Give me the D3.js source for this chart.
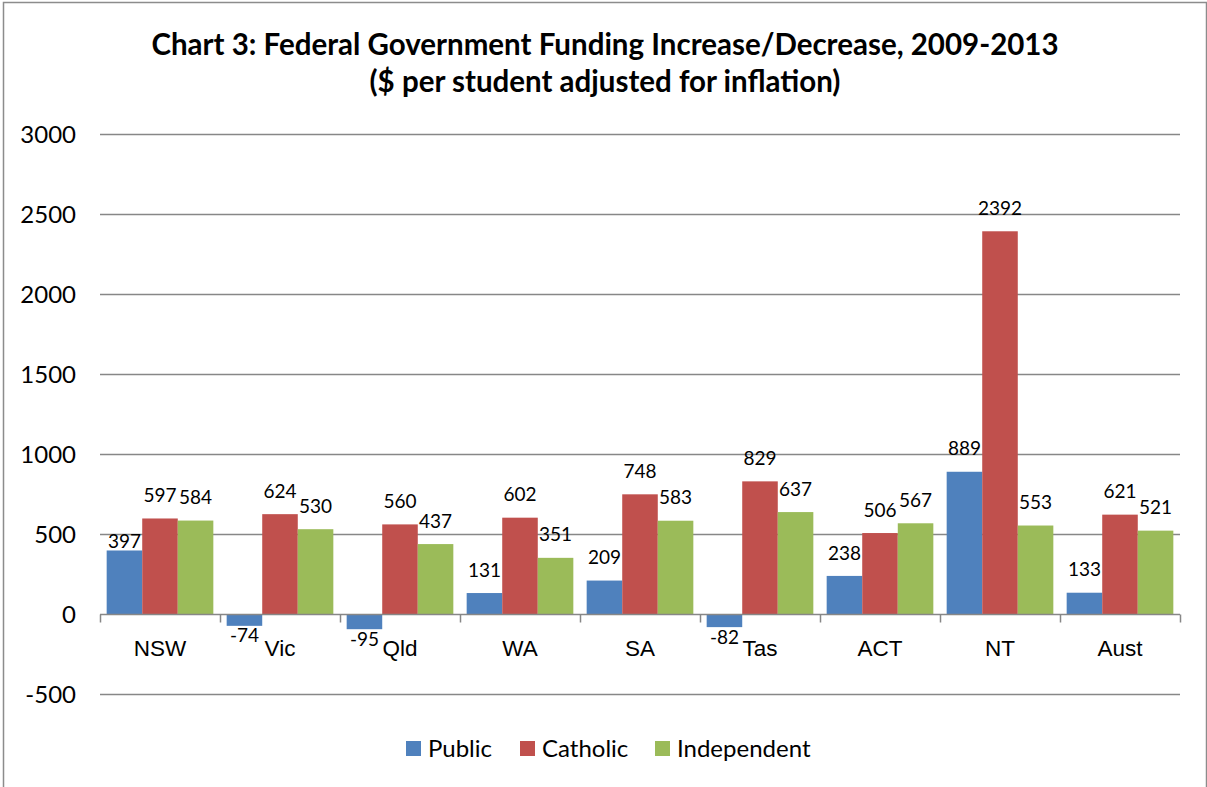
<!DOCTYPE html>
<html>
<head>
<meta charset="utf-8">
<script src="https://cdn.jsdelivr.net/npm/d3@7"></script>
<style>
  html, body { margin: 0; padding: 0; background: #fff; }
  svg { display: block; font-family: Lato, "Open Sans", sans-serif; }
</style>
</head>
<body>
<svg id="chart" width="1207" height="787"></svg>
<script>
// Federal funding change per student, 2009-2013, by state and sector
const states = ["NSW", "Vic", "Qld", "WA", "SA", "Tas", "ACT", "NT", "Aust"];
const sectors = ["Public", "Catholic", "Independent"];
const publicValues = [397, -74, -95, 131, 209, -82, 238, 889, 133];
const catholicValues = [597, 624, 560, 602, 748, 829, 506, 2392, 621];
const independentValues = [584, 530, 437, 351, 583, 637, 567, 553, 521];
const yTicks = [-500, 0, 500, 1000, 1500, 2000, 2500, 3000];
const colors = ["#4F81BD", "#C0504D", "#9BBB59"];

const seriesValues = [publicValues, catholicValues, independentValues];
const rows = states.map((s, i) => ({
  state: s,
  values: sectors.map((k, j) => ({ state: s, sector: k, value: seriesValues[j][i], idx: j }))
}));

const svg = d3.select("#chart");
const plot = { left: 100, right: 1180, top: 134, bottom: 694 };

// Outer chart frame
svg.append("rect")
  .attr("x", 3.5).attr("y", 2.5)
  .attr("width", 1203).attr("height", 800)
  .attr("fill", "none").attr("stroke", "#8c8c8c").attr("stroke-width", 1.5);

// Title
const title = svg.append("text")
  .attr("x", 605).attr("text-anchor", "middle")
  .attr("font-weight", "bold").attr("font-size", 29.5).attr("fill", "#000");
title.append("tspan").attr("x", 605).attr("y", 55)
  .text("Chart 3: Federal Government Funding Increase/Decrease, 2009-2013");
title.append("tspan").attr("x", 605).attr("y", 92)
  .text("($ per student adjusted for inflation)");

const y = d3.scaleLinear().domain([-500, 3000]).range([plot.bottom, plot.top]);
const x0 = d3.scaleBand().domain(states).range([plot.left, plot.right]).paddingInner(0).paddingOuter(0);
const x1 = d3.scaleBand().domain(sectors).range([0, x0.bandwidth()]).paddingInner(0).paddingOuter(0.1875);

// Horizontal gridlines
svg.append("g")
  .selectAll("line")
  .data(yTicks.filter(t => t !== 0))
  .join("line")
  .attr("x1", plot.left).attr("x2", plot.right)
  .attr("y1", d => Math.round(y(d)) + 0.5).attr("y2", d => Math.round(y(d)) + 0.5)
  .attr("stroke", "#878787").attr("stroke-width", 1.5);

// Y axis labels (plain integers, hyphen minus)
const yAxis = d3.axisLeft(y).tickValues(yTicks).tickSize(0).tickPadding(0)
  .tickFormat(d => String(d));
const yG = svg.append("g").attr("transform", `translate(76,0)`).call(yAxis);
yG.select(".domain").remove();
yG.selectAll("text").attr("font-size", 24).attr("fill", "#000")
  .attr("font-family", "Lato, sans-serif").attr("dy", "0.35em");

// Bars
const groups = svg.append("g").selectAll("g")
  .data(rows)
  .join("g")
  .attr("transform", d => `translate(${x0(d.state)},0)`);

groups.selectAll("rect")
  .data(d => d.values)
  .join("rect")
  .attr("x", d => x1(d.sector))
  .attr("width", x1.bandwidth())
  .attr("y", d => y(Math.max(0, d.value)))
  .attr("height", d => Math.abs(y(d.value) - y(0)))
  .attr("fill", d => colors[d.idx]);

// Category axis at zero with downward ticks at band boundaries
const xAxis = d3.axisBottom(x0).tickSize(0).tickPadding(0).tickFormat("");
const zeroY = Math.round(y(0)) + 0.5;
const xG = svg.append("g").attr("transform", `translate(0,${zeroY})`).call(xAxis);
xG.select(".domain").remove();
xG.append("line").attr("x1", plot.left).attr("x2", plot.right)
  .attr("stroke", "#878787").attr("stroke-width", 1.5);
const bounds = states.map(s => x0(s)).concat([x0(states[states.length - 1]) + x0.bandwidth()]);
xG.selectAll("line.tick-mark")
  .data(bounds)
  .join("line").attr("class", "tick-mark")
  .attr("x1", d => Math.round(d) + 0.5).attr("x2", d => Math.round(d) + 0.5)
  .attr("y1", 0).attr("y2", 8)
  .attr("stroke", "#878787").attr("stroke-width", 1.5);
xG.selectAll("text.cat")
  .data(states)
  .join("text").attr("class", "cat")
  .attr("x", d => x0(d) + x0.bandwidth() / 2)
  .attr("y", 41)
  .attr("text-anchor", "middle")
  .attr("font-size", 22.5).attr("fill", "#000")
  .text(d => d);

// Value labels: above positive bars, below negative bars.
// The NSW public label sits lower, tucked beside the taller neighbours.
const labelShift = { "NSW|Public": 14 };
groups.selectAll("text.val")
  .data(d => d.values)
  .join("text").attr("class", "val")
  .attr("x", d => x1(d.sector) + x1.bandwidth() / 2)
  .attr("y", d => (d.value >= 0 ? y(d.value) - 23 : y(d.value) + 10) + (labelShift[d.state + "|" + d.sector] || 0))
  .attr("dy", "0.35em")
  .attr("text-anchor", "middle")
  .attr("font-size", 19).attr("fill", "#000")
  .text(d => d.value);

// Legend
const legendSquares = [406, 520, 655];
const lg = svg.append("g");
sectors.forEach((name, i) => {
  lg.append("rect").attr("x", legendSquares[i]).attr("y", 741).attr("width", 15).attr("height", 15)
    .attr("fill", colors[i]);
  lg.append("text").attr("x", legendSquares[i] + 22).attr("y", 748.5).attr("dy", "0.35em")
    .attr("font-size", 24).attr("fill", "#000").text(name);
});
</script>
</body>
</html>
